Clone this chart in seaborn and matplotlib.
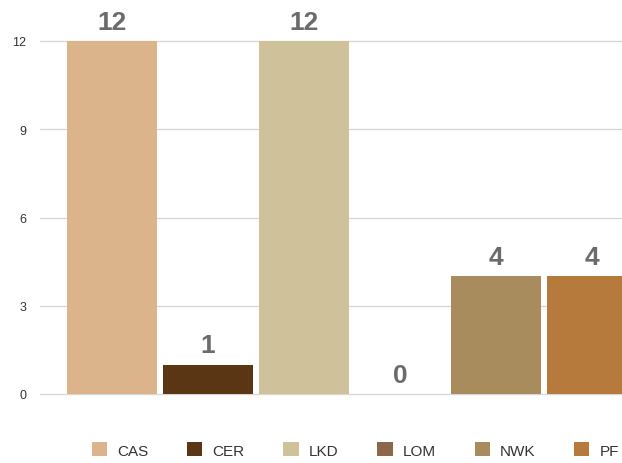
import matplotlib
matplotlib.use("Agg")
import matplotlib.pyplot as plt
import seaborn as sns
import pandas as pd
from matplotlib.patches import Patch

categories = ["CAS", "CER", "LKD", "LOM", "NWK", "PF"]
values = [12, 1, 12, 0, 4, 4]
colors = ["#dbb48c", "#5b3614", "#cfc29a", "#8c6749", "#a88c5e", "#b57a3c"]
yticks = [0, 3, 6, 9, 12]

sns.set_theme(style="white")
plt.rcParams['font.family'] = ['Liberation Sans', 'DejaVu Sans']

fig = plt.figure(figsize=(6.22, 4.64), dpi=100)
W, H = 622, 464
# axes: value 0 at 395px, 12 at 42px
y0_px, y12_px = 395, 42
ppu = (y0_px - y12_px) / 12.0
ylo, yhi = -0.6, 12.6
bottom_px = y0_px + (0 - ylo) * ppu
top_px = y0_px - (yhi) * ppu
left_px, right_px = 40, 650
ax = fig.add_axes([left_px / W, 1 - bottom_px / H, (right_px - left_px) / W, (bottom_px - top_px) / H])

df = pd.DataFrame({"cat": categories, "val": values})
sns.barplot(data=df, x="cat", y="val", hue="cat", palette=colors, dodge=False,
            width=0.93, legend=False, ax=ax, edgecolor="none", saturation=1)

spacing = 96.0
xc0 = 112.0
xlo = (left_px - xc0) / spacing
xhi = (right_px - xc0) / spacing
ax.set_xlim(xlo, xhi)
ax.set_ylim(ylo, yhi)

ax.set_yticks(yticks)
ax.set_yticklabels([str(t) for t in yticks], fontsize=9, color="#333333")
ax.tick_params(axis="y", length=0, pad=10)
ax.set_xticks([])
ax.set_xlabel("")
ax.set_ylabel("")
ax.grid(axis="y", color="#d8d8d8", linewidth=1)
ax.set_axisbelow(True)
for s in ax.spines.values():
    s.set_visible(False)

for i, v in enumerate(values):
    ax.text(i, v + 0.25, str(v), ha="center", va="bottom", fontsize=19,
            fontweight="bold", color="#6b6b6b")

handles = [Patch(facecolor=c, edgecolor="none", label=l) for c, l in zip(colors, categories)]
fig.legend(handles=handles, loc="center left", bbox_to_anchor=(78 / W, 1 - 451 / H),
           ncol=6, frameon=False, fontsize=11, handlelength=1.0, handleheight=1.0,
           columnspacing=2.55, handletextpad=0.65, labelcolor="#333333")

fig.savefig("out.png", dpi=100)
